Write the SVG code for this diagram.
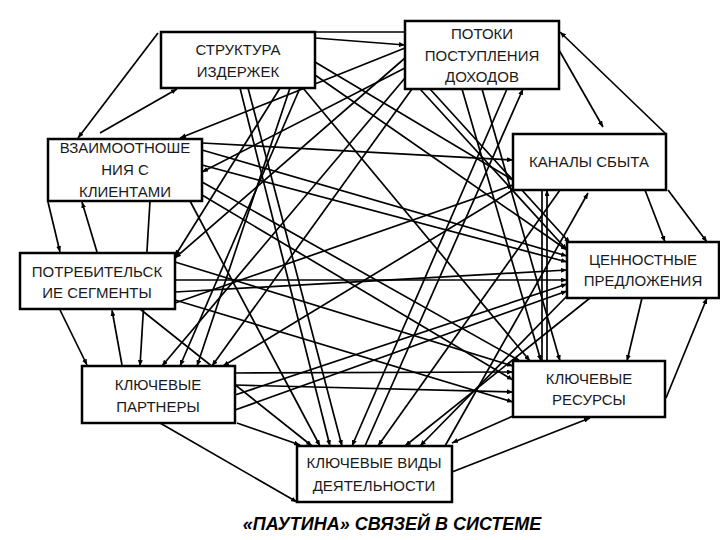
<svg xmlns="http://www.w3.org/2000/svg" width="720" height="540" viewBox="0 0 720 540">
<style>
.box{fill:#fff;stroke:#000;stroke-width:2.5}
.t{font-family:"Liberation Sans",Arial,sans-serif;font-size:15px;fill:#1a1a1a;text-anchor:middle}
.c line{stroke:#000;stroke-width:1.7;marker-end:url(#a)}
.c line.n{marker-end:none}
.title{font-family:"Liberation Sans",Arial,sans-serif;font-size:18px;font-weight:bold;font-style:italic;text-anchor:middle;fill:#000}
</style>
<defs>
<marker id="a" markerUnits="userSpaceOnUse" markerWidth="6" markerHeight="5" refX="6" refY="2.5" orient="auto">
<path d="M0,0 L6,2.5 L0,5 z" fill="#000"/>
</marker>
</defs>
<rect width="720" height="540" fill="#fff"/>
<g id="connectors" class="c">
<line x1="158" y1="33" x2="78" y2="138"/>
<line x1="100" y1="133" x2="177" y2="89"/>
<line x1="48" y1="202" x2="60" y2="252"/>
<line x1="97" y1="252" x2="82" y2="202"/>
<line x1="60" y1="310" x2="87" y2="365"/>
<line x1="122" y1="365" x2="112" y2="310"/>
<line x1="160" y1="423" x2="297" y2="502"/>
<line x1="237" y1="423" x2="300" y2="445"/>
<line x1="513" y1="416" x2="452" y2="443"/>
<line x1="452" y1="472" x2="590" y2="418"/>
<line x1="642" y1="298" x2="627" y2="361"/>
<line x1="666" y1="398" x2="707" y2="298"/>
<line x1="645" y1="190" x2="665" y2="242"/>
<line x1="668" y1="190" x2="707" y2="242"/>
<line x1="666" y1="134" x2="560" y2="32"/>
<line x1="559" y1="50" x2="603" y2="127"/>
<line class="n" x1="315" y1="32" x2="405" y2="32"/>
<line x1="315" y1="38" x2="405" y2="45"/>
<line x1="240" y1="88" x2="330" y2="446"/>
<line x1="248" y1="88" x2="342" y2="446"/>
<line x1="290" y1="88" x2="197" y2="366"/>
<line x1="300" y1="88" x2="180" y2="366"/>
<line x1="303" y1="88" x2="530" y2="361"/>
<line x1="315" y1="62" x2="513" y2="180"/>
<line x1="315" y1="75" x2="567" y2="250"/>
<line x1="280" y1="88" x2="175" y2="256"/>
<line x1="405" y1="48" x2="180" y2="138"/>
<line x1="405" y1="58" x2="175" y2="258"/>
<line x1="405" y1="68" x2="202" y2="172"/>
<line x1="405" y1="78" x2="162" y2="366"/>
<line x1="412" y1="89" x2="212" y2="366"/>
<line x1="420" y1="89" x2="567" y2="250"/>
<line x1="430" y1="89" x2="570" y2="243"/>
<line x1="462" y1="89" x2="541" y2="361"/>
<line x1="482" y1="89" x2="560" y2="361"/>
<line x1="507" y1="89" x2="352" y2="446"/>
<line x1="365" y1="446" x2="523" y2="89"/>
<line x1="202" y1="143" x2="513" y2="160"/>
<line x1="513" y1="190" x2="223" y2="366"/>
<line x1="547" y1="361" x2="547" y2="190"/>
<line class="n" x1="542" y1="361" x2="542" y2="190"/>
<line x1="560" y1="190" x2="378" y2="446"/>
<line x1="445" y1="446" x2="588" y2="193"/>
<line x1="175" y1="303" x2="513" y2="185"/>
<line x1="202" y1="150" x2="567" y2="256"/>
<line x1="202" y1="165" x2="567" y2="262"/>
<line x1="175" y1="280" x2="567" y2="280"/>
<line x1="175" y1="292" x2="567" y2="270"/>
<line x1="235" y1="395" x2="567" y2="284"/>
<line x1="235" y1="410" x2="567" y2="291"/>
<line x1="567" y1="296" x2="420" y2="446"/>
<line x1="590" y1="298" x2="405" y2="446"/>
<line x1="235" y1="373" x2="513" y2="372"/>
<line x1="235" y1="385" x2="513" y2="392"/>
<line x1="175" y1="262" x2="513" y2="366"/>
<line x1="202" y1="182" x2="520" y2="361"/>
<line x1="202" y1="195" x2="513" y2="380"/>
<line x1="175" y1="300" x2="513" y2="402"/>
<line x1="190" y1="201" x2="320" y2="446"/>
<line x1="140" y1="309" x2="312" y2="446"/>
<line x1="150" y1="201" x2="140" y2="366"/>
</g>
<g id="n-costs"><rect class="box" x="161" y="32" width="154" height="56"/><text class="t" x="238" y="55">СТРУКТУРА</text><text class="t" x="238" y="77">ИЗДЕРЖЕК</text></g>
<g id="n-revenue"><rect class="box" x="405" y="21" width="154" height="68"/><text class="t" x="482" y="39">ПОТОКИ</text><text class="t" x="482" y="61">ПОСТУПЛЕНИЯ</text><text class="t" x="482" y="82">ДОХОДОВ</text></g>
<g id="n-channels"><rect class="box" x="513" y="134" width="153" height="56"/><text class="t" x="589" y="167">КАНАЛЫ СБЫТА</text></g>
<g id="n-relations"><rect class="box" x="48" y="139" width="154" height="62"/><text class="t" x="125" y="153">ВЗАИМООТНОШЕ</text><text class="t" x="125" y="175">НИЯ С</text><text class="t" x="125" y="197">КЛИЕНТАМИ</text></g>
<g id="n-segments"><rect class="box" x="20" y="253" width="155" height="56"/><text class="t" x="97" y="277">ПОТРЕБИТЕЛЬСК</text><text class="t" x="97" y="298">ИЕ СЕГМЕНТЫ</text></g>
<g id="n-value"><rect class="box" x="567" y="242" width="152" height="56"/><text class="t" x="643" y="265">ЦЕННОСТНЫЕ</text><text class="t" x="643" y="286">ПРЕДЛОЖЕНИЯ</text></g>
<g id="n-resources"><rect class="box" x="513" y="361" width="152" height="56"/><text class="t" x="589" y="384">КЛЮЧЕВЫЕ</text><text class="t" x="589" y="405">РЕСУРСЫ</text></g>
<g id="n-partners"><rect class="box" x="82" y="366" width="153" height="57"/><text class="t" x="158" y="390">КЛЮЧЕВЫЕ</text><text class="t" x="158" y="412">ПАРТНЕРЫ</text></g>
<g id="n-activities"><rect class="box" x="297" y="446" width="155" height="56"/><text class="t" x="374" y="468">КЛЮЧЕВЫЕ ВИДЫ</text><text class="t" x="374" y="491">ДЕЯТЕЛЬНОСТИ</text></g>
<text class="title" x="392" y="530">«ПАУТИНА» СВЯЗЕЙ В СИСТЕМЕ</text>
</svg>
